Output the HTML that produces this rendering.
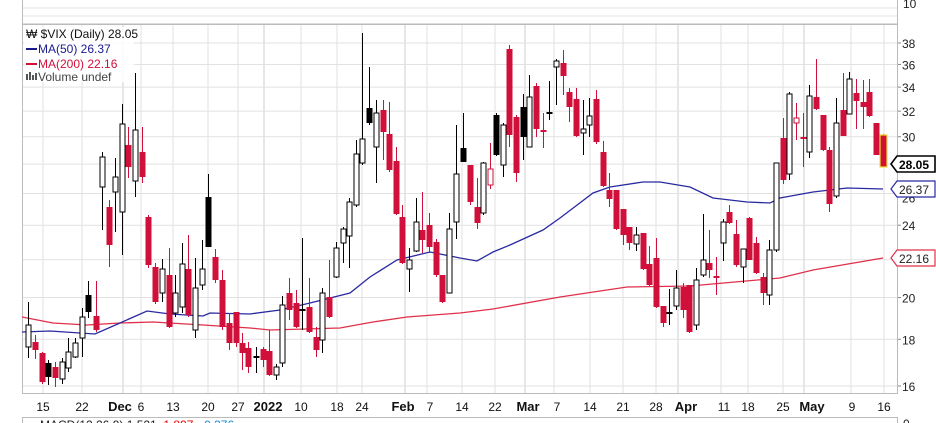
<!DOCTYPE html>
<html><head><meta charset="utf-8"><style>
body{margin:0;background:#fff;}
svg{display:block;font-family:"Liberation Sans",Arial,sans-serif;}
</style></head><body>
<svg id="s" width="936" height="423" viewBox="0 0 936 423" xmlns="http://www.w3.org/2000/svg"></svg>
<script>
var s=document.getElementById('s');var h='';
function L(x1,y1,x2,y2,c,w){h+='<line x1="'+x1+'" y1="'+y1+'" x2="'+x2+'" y2="'+y2+'" stroke="'+c+'" stroke-width="'+(w||1)+'"/>';}
function T(x,y,t,a){h+='<text x="'+x+'" y="'+y+'" '+(a||'')+'>'+t+'</text>';}
// top panel
L(22,8,898,8,'#e4e4e4');L(22,16,898,16,'#e4e4e4');
h+='<rect x="22.5" y="-5" width="875" height="29" fill="none" stroke="#bbb"/>';
T(903,8,'10','font-size="12" fill="#222"');
// main grid
function Y(v){return 43+396.5*Math.log(38/v);}
var pr=[16,18,20,22,24,26,28,30,32,34,36,38];
var vx=[43,82,123,141,173,208,238,264,301,337,362,405,427,462,495,525,554,590,623,656,678,721,748,783,804,851,884];
vx.forEach(function(x){L(x,24,x,393,'#e2e2e2');});
[123,264,405,525,678,804].forEach(function(x){L(x,24,x,393,'#cfcfcf');});
pr.forEach(function(v){L(22,Y(v),898,Y(v),'#e2e2e2');});
h+='<rect x="22.5" y="24.5" width="875" height="369" fill="none" stroke="#bbb"/>';
pr.forEach(function(v){if(v!=28&&v!=26&&v!=22)T(902,Y(v)+5,v,'font-size="12" fill="#222"');else if(v==26)T(902,Y(v)+5+4,v,'font-size="12" fill="#222"');});
pr.forEach(function(v){L(898,Y(v),901,Y(v),'#888');});
// MAs
function P(pts,c){h+='<polyline fill="none" stroke="'+c+'" stroke-width="1.3" points="'+pts.map(function(p){return p.join(',')}).join(' ')+'"/>';}
P([[22,317],[53,323],[87,325],[120,323],[153,322],[203,325],[250,328],[270,330],[340,328],[373,322],[407,317],[460,313],[493,309],[560,297],[627,287],[690,286],[780,278],[813,270],[883,258]],'#e0304a');
P([[22,332],[50,331],[95,334],[120,323],[147,311],[170,314],[203,316],[210,313],[250,314],[280,310],[310,303],[350,293],[370,277],[397,260],[430,252],[460,258],[477,261],[493,252],[510,245],[543,230],[560,218],[593,193],[610,187],[643,182],[660,182],[690,187],[713,198],[747,202],[770,203],[780,198],[813,192],[847,188],[883,189]],'#2a2aa0');
// candles [x,high,top,bottom,low,type]
var C=[[28,302,325,347,358,'w'],[35,335,342,350,359,'r'],[42,352,353,382,384,'r'],[48,360,363,377,385,'b'],[55,362,367,378,387,'r'],[62,358,362,379,384,'w'],[68,338,352,368,372,'w'],[75,338,343,357,358,'w'],[82,308,317,338,357,'w'],[88,281,295,312,318,'b'],[96,281,316,330,332,'r'],[102,152,157,187,230,'w'],[109,200,207,245,267,'r'],[115,158,177,192,232,'w'],[122,104,124,212,255,'w'],[128,127,145,167,178,'r'],[135,73,130,181,197,'w'],[142,127,152,177,183,'r'],[148,215,217,265,268,'r'],[155,263,267,302,304,'r'],[162,259,269,293,302,'w'],[169,248,275,327,328,'r'],[175,275,293,313,317,'w'],[182,243,264,307,313,'w'],[188,235,269,315,317,'r'],[195,258,288,330,338,'w'],[202,240,269,285,290,'w'],[208,174,197,247,247,'b'],[215,249,257,280,283,'r'],[222,270,280,327,330,'r'],[229,313,323,343,350,'r'],[236,312,312,343,347,'r'],[242,333,343,353,370,'r'],[248,342,348,367,373,'r'],[256,347,356,358,373,'b'],[263,347,349,360,367,'r'],[269,330,351,375,376,'r'],[276,364,367,375,380,'w'],[282,296,305,363,367,'w'],[289,278,293,310,320,'r'],[296,290,303,327,328,'r'],[302,238,309,311,330,'b'],[309,278,307,332,333,'r'],[316,327,337,350,357,'r'],[322,288,293,340,353,'w'],[329,260,297,317,318,'r'],[336,242,248,277,278,'w'],[343,227,229,243,263,'w'],[349,198,202,236,268,'w'],[356,140,154,205,207,'w'],[362,33,139,163,165,'w'],[369,67,108,123,125,'b'],[376,100,113,147,183,'w'],[383,100,110,132,160,'r'],[389,102,134,170,172,'r'],[396,147,161,214,215,'r'],[402,205,217,263,264,'r'],[409,248,260,269,292,'w'],[416,198,222,251,252,'w'],[422,192,230,240,253,'r'],[429,213,225,247,253,'r'],[436,239,242,275,277,'r'],[442,275,275,302,303,'r'],[449,213,229,293,293,'w'],[456,125,174,222,239,'w'],[463,113,148,162,162,'b'],[470,165,165,202,205,'r'],[477,178,207,223,229,'r'],[483,162,163,213,215,'w'],[490,143,169,185,189,'rw'],[496,113,115,155,156,'b'],[503,123,125,165,177,'w'],[509,45,49,135,147,'r'],[516,115,117,173,182,'r'],[523,94,107,137,160,'b'],[529,75,97,147,147,'w'],[536,83,86,129,137,'r'],[543,113,130,132,148,'r'],[549,81,112,114,120,'b'],[556,59,61,67,105,'w'],[563,50,63,76,95,'r'],[569,88,92,107,122,'r'],[576,88,99,136,137,'r'],[583,100,129,133,155,'w'],[589,98,116,125,137,'w'],[596,90,99,142,144,'r'],[603,141,152,186,187,'r'],[609,173,190,199,207,'r'],[616,190,190,229,230,'r'],[623,209,209,235,245,'r'],[629,227,227,243,250,'r'],[636,227,235,244,251,'w'],[643,233,233,269,270,'r'],[649,246,264,285,286,'r'],[656,238,258,307,308,'r'],[663,306,306,323,327,'r'],[669,289,312,314,325,'b'],[676,270,288,306,310,'w'],[683,283,287,310,318,'r'],[689,285,285,332,333,'r'],[696,268,280,325,330,'w'],[703,214,260,275,277,'w'],[709,230,263,270,278,'r'],[716,257,276,278,295,'r'],[723,219,222,243,261,'w'],[729,205,212,223,224,'r'],[736,220,234,265,267,'r'],[743,249,249,267,283,'w'],[749,217,218,260,260,'r'],[756,237,243,273,274,'r'],[763,273,277,293,305,'r'],[769,240,250,295,305,'w'],[776,163,163,250,252,'w'],[783,118,138,180,184,'r'],[789,92,94,174,180,'w'],[796,103,118,123,140,'rw'],[803,113,137,139,167,'r'],[809,85,96,152,158,'w'],[816,59,97,109,110,'r'],[823,115,115,150,151,'r'],[829,147,150,204,212,'r'],[836,98,123,196,198,'w'],[843,73,110,136,136,'r'],[849,72,79,114,114,'w'],[856,79,93,101,129,'r'],[863,80,102,107,129,'r'],[869,79,92,116,117,'r'],[876,123,123,155,155,'r'],[883,134,135,167,167,'y']];
C.forEach(function(c){var x=c[0],t=c[5];var col=(t=='r'||t=='rw'||t=='y')?'#d0103a':'#000';
L(x+.5,c[1],x+.5,c[4],col,1);
var bh=Math.max(c[3]-c[2],1.5);
if(t=='w')h+='<rect x="'+(x-2)+'" y="'+c[2]+'" width="5" height="'+bh+'" fill="#fff" stroke="#000" stroke-width="1"/>';
else if(t=='rw')h+='<rect x="'+(x-2)+'" y="'+c[2]+'" width="5" height="'+bh+'" fill="#fff" stroke="#d0103a" stroke-width="1"/>';
else if(t=='y')h+='<rect x="'+(x-3)+'" y="'+c[2]+'" width="7" height="'+bh+'" fill="#d0103a" stroke="#f0e030" stroke-width="1.2"/>';
else h+='<rect x="'+(x-2.5)+'" y="'+c[2]+'" width="6" height="'+bh+'" fill="'+col+'"/>';});
// tags
function tag(y,txt,c,bold){h+='<path d="M891,'+y+' L897,'+(y-8)+' L935,'+(y-8)+' L935,'+(y+8)+' L897,'+(y+8)+' Z" fill="#fff" stroke="'+c+'" stroke-width="'+(bold?1.6:1.2)+'"/>';T(899,y+5,txt,'font-size="12" fill="'+(bold?'#000':'#222')+'"'+(bold?' font-weight="bold"':''));}
tag(164,'28.05','#000',1);tag(189,'26.37','#2a2aa0');tag(258,'22.16','#e0304a');
// legend
h+='<rect x="24" y="27" width="110" height="55" fill="#fff" opacity="0.85"/>';
T(26,38,'₩ $VIX (Daily) 28.05','font-size="12" fill="#111"');
L(26,49,37,49,'#1a1a90',2);T(38,53,'MA(50) 26.37','font-size="12" fill="#1a1a90"');
L(26,64,37,64,'#d0103a',2);T(38,68,'MA(200) 22.16','font-size="12" fill="#d0103a"');
h+='<rect x="26" y="74" width="2" height="6" fill="#555"/><rect x="29" y="72" width="2" height="8" fill="#555"/><rect x="32" y="75" width="2" height="5" fill="#555"/><rect x="35" y="73" width="2" height="7" fill="#555"/>';
T(38,81,'Volume undef','font-size="12" fill="#444"');
// date labels
var D=[[43,'15'],[82,'22'],[120,'Dec',1],[141,'6'],[173,'13'],[208,'20'],[238,'27'],[268,'2022',1],[301,'10'],[337,'18'],[362,'24'],[403,'Feb',1],[430,'7'],[462,'14'],[495,'22'],[528,'Mar',1],[557,'7'],[590,'14'],[623,'21'],[656,'28'],[686,'Apr',1],[724,'11'],[748,'18'],[783,'25'],[812,'May',1],[852,'9'],[884,'16']];
D.forEach(function(d){T(d[0],411,d[1],'font-size="'+(d[2]?13:12)+'" text-anchor="middle" fill="#111"'+(d[2]?' font-weight="bold"':''));});
// MACD panel
h+='<rect x="22.5" y="417.5" width="875" height="20" fill="none" stroke="#bbb"/>';
T(903,428,'0','font-size="12" fill="#222"');
h+='<text x="40" y="429" font-size="12"><tspan fill="#222">MACD(12,26,9) 1.521, </tspan><tspan fill="#e00">1.897</tspan><tspan fill="#222">, </tspan><tspan fill="#1a8ad0">-0.376</tspan></text>';
s.innerHTML=h;
</script>
</body></html>
